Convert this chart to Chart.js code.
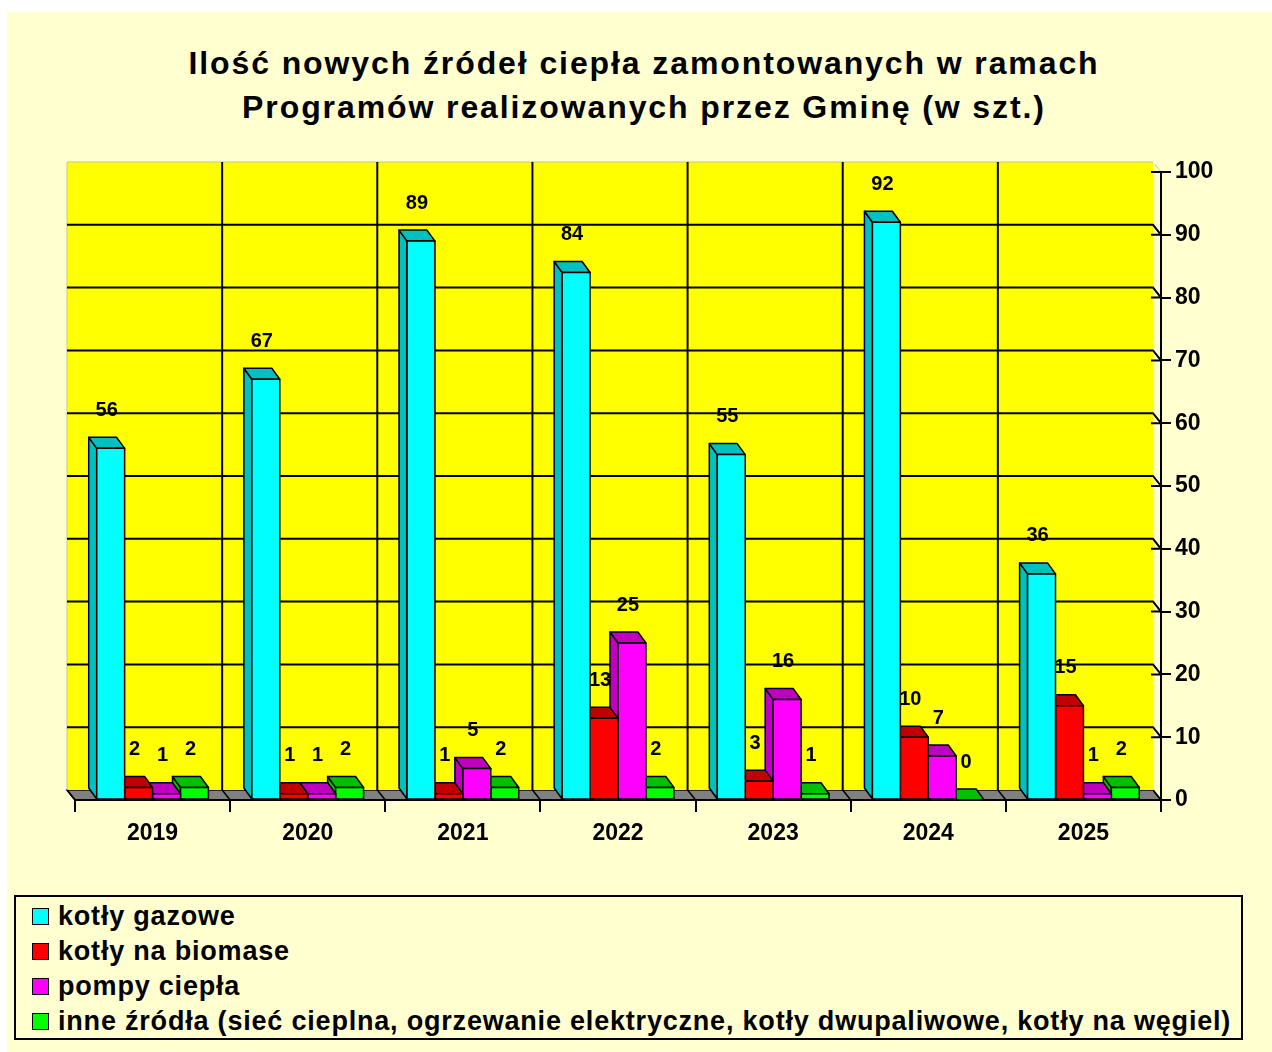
<!DOCTYPE html>
<html lang="pl">
<head>
<meta charset="UTF-8">
<title>Źródła ciepła</title>
<script src="https://cdn.jsdelivr.net/npm/chart.js"></script>
<style>
  body { margin: 0; background: #fff; font-family: 'Liberation Sans', Arial, sans-serif; }
  #page { position: absolute; left: 7px; top: 12px; width: 1265px; height: 1040px; background: #FFFFD0; }
  #title {
    position: absolute; left: 16px; top: 41px; width: 1256px; text-align: center;
    font: bold 32px/44px 'Liberation Sans', Arial, sans-serif; letter-spacing: 1.9px; color: #000;
  }
  #wrap { position: absolute; left: 0; top: 0; width: 1272px; height: 880px; }
  #legend {
    position: absolute; left: 14px; top: 895px; width: 1229px; height: 145px;
    box-sizing: border-box; border: 2px solid #000; padding: 2px 0 0 16px;
  }
  .item { height: 35px; display: flex; align-items: center; font: bold 27px 'Liberation Sans', Arial, sans-serif; letter-spacing: 0.8px; color: #000; white-space: nowrap; }
  .sw { width: 15px; height: 15px; border: 1.5px solid #000; margin-right: 9px; flex: none; }
</style>
</head>
<body>
<div id="page"></div>
<div id="title">Ilość nowych źródeł ciepła zamontowanych w ramach<br>Programów realizowanych przez Gminę (w szt.)</div>
<div id="wrap"><canvas id="chart" width="1272" height="880"></canvas></div>
<div id="legend"></div>

<script>
  const years = ['2019', '2020', '2021', '2022', '2023', '2024', '2025'];
  const gazowe = [56, 67, 89, 84, 55, 92, 36];
  const biomasa = [2, 1, 1, 13, 3, 10, 15];
  const pompy = [1, 1, 5, 25, 16, 7, 1];
  const inne = [2, 2, 2, 2, 1, 0, 2];
  const seriesNames = [
    'kotły gazowe',
    'kotły na biomase',
    'pompy ciepła',
    'inne źródła (sieć cieplna, ogrzewanie elektryczne, kotły dwupaliwowe, kotły na węgiel)'
  ];
  const yTicks = [0, 10, 20, 30, 40, 50, 60, 70, 80, 90, 100];

  const front = ['#00FFFF', '#FF0000', '#FF00FF', '#00FF00'];
  const dark = ['#00C0C0', '#C00000', '#C000C0', '#00C000'];

  // depth offsets of the fake 3D
  const DX = -8, DY = -11, WDX = -8, WDY = -10;

  function poly(ctx, pts, fill) {
    ctx.beginPath();
    ctx.moveTo(pts[0][0], pts[0][1]);
    for (let i = 1; i < pts.length; i++) ctx.lineTo(pts[i][0], pts[i][1]);
    ctx.closePath();
    ctx.fillStyle = fill;
    ctx.fill();
    ctx.stroke();
  }

  const wallPlugin = {
    id: 'wall3d',
    beforeDatasetsDraw(chart) {
      const { ctx, chartArea: a, scales: { x, y } } = chart;
      const top = y.getPixelForValue(100);
      ctx.save();
      // floor
      ctx.strokeStyle = '#000';
      ctx.lineWidth = 1.5;
      poly(ctx, [[a.left, a.bottom], [a.right, a.bottom], [a.right + WDX, a.bottom + WDY], [a.left + WDX, a.bottom + WDY]], '#808080');
      // wall
      ctx.fillStyle = '#FFFF00';
      ctx.fillRect(a.left + WDX, top + WDY, a.right - a.left, a.bottom - top);
      ctx.strokeStyle = '#C8C890';
      ctx.lineWidth = 1;
      ctx.beginPath();
      ctx.moveTo(a.left + WDX, a.bottom + WDY);
      ctx.lineTo(a.left + WDX, top + WDY);
      ctx.lineTo(a.right + WDX, top + WDY);
      ctx.lineTo(a.right, top);
      ctx.stroke();
      ctx.strokeStyle = '#FFFFC0';
      ctx.lineWidth = 2;
      ctx.beginPath();
      ctx.moveTo(a.right + WDX + 1, top + WDY);
      ctx.lineTo(a.right + WDX + 1, a.bottom + WDY);
      ctx.stroke();

      // horizontal grid on the wall
      ctx.strokeStyle = '#000';
      ctx.lineWidth = 2;
      yTicks.forEach(v => {
        const py = y.getPixelForValue(v);
        ctx.beginPath();
        if (v > 0 && v < 100) {
          ctx.moveTo(a.left + WDX, py + WDY);
          ctx.lineTo(a.right + WDX, py + WDY);
          ctx.lineTo(a.right, py);
        }
        ctx.moveTo(a.right - 10, py);
        ctx.lineTo(a.right, py);
        ctx.stroke();
      });

      // vertical grid on the wall + floor diagonals
      for (let i = 0; i <= years.length; i++) {
        const bx = i === 0 ? a.left : i === years.length ? a.right
          : (x.getPixelForValue(i - 1) + x.getPixelForValue(i)) / 2;
        ctx.lineWidth = 2;
        ctx.beginPath();
        if (i > 0 && i < years.length) {
          ctx.moveTo(bx + WDX, top + WDY);
          ctx.lineTo(bx + WDX, a.bottom + WDY);
        }
        ctx.stroke();
        ctx.lineWidth = 1.5;
        ctx.beginPath();
        ctx.moveTo(bx + WDX, a.bottom + WDY);
        ctx.lineTo(bx, a.bottom);
        ctx.stroke();
      }

      // axis lines
      ctx.lineWidth = 2;
      ctx.beginPath();
      ctx.moveTo(a.left, a.bottom);
      ctx.lineTo(a.right, a.bottom);
      ctx.moveTo(a.right, top);
      ctx.lineTo(a.right, a.bottom);
      ctx.stroke();
      ctx.restore();
    },
    afterDatasetsDraw(chart) {
      const { ctx } = chart;
      const nSets = chart.data.datasets.length;
      ctx.save();
      ctx.strokeStyle = '#000';
      ctx.lineWidth = 1.5;
      ctx.lineJoin = 'round';
      for (let i = 0; i < years.length; i++) {
        for (let d = nSets - 1; d >= 0; d--) {
          const el = chart.getDatasetMeta(d).data[i];
          const l = el.x - el.width / 2, r = el.x + el.width / 2, t = el.y, b = el.base;
          poly(ctx, [[l, b], [l + DX, b + DY], [l + DX, t + DY], [l, t]], dark[d]);
          poly(ctx, [[l, t], [l + DX, t + DY], [r + DX, t + DY], [r, t]], dark[d]);
          poly(ctx, [[l, t], [r, t], [r, b], [l, b]], front[d]);
        }
      }
      // value labels
      ctx.fillStyle = '#000';
      ctx.font = "bold 20px 'Liberation Sans', Arial, sans-serif";
      ctx.textAlign = 'center';
      ctx.textBaseline = 'middle';
      for (let d = 0; d < nSets; d++) {
        chart.getDatasetMeta(d).data.forEach((el, i) => {
          ctx.fillText(String(chart.data.datasets[d].data[i]), el.x - 4, el.y - 38);
        });
      }
      ctx.restore();
    }
  };

  const allData = [gazowe, biomasa, pompy, inne];

  new Chart(document.getElementById('chart'), {
    type: 'bar',
    data: {
      labels: years,
      datasets: allData.map((vals, i) => ({
        label: seriesNames[i],
        data: vals,
        backgroundColor: front[i],
        borderColor: '#000',
        borderWidth: 1.5,
        categoryPercentage: 0.72,
        barPercentage: 1.0
      }))
    },
    options: {
      responsive: false,
      animation: false,
      events: [],
      layout: { padding: { left: 75, right: 0, top: 172, bottom: 0 } },
      plugins: {
        legend: { display: false },
        tooltip: { enabled: false },
        title: { display: false }
      },
      scales: {
        x: {
          border: { display: false },
          grid: { display: true, offset: true, drawOnChartArea: false, drawTicks: true, tickLength: 12, color: '#000', lineWidth: 2 },
          ticks: { color: '#000', padding: 8, font: { family: "'Liberation Sans', Arial, sans-serif", size: 23, weight: 'bold' } },
          afterFit(scale) { scale.height = 80; }
        },
        y: {
          position: 'right',
          min: 0,
          max: 100,
          border: { display: false },
          grid: { display: true, drawOnChartArea: false, drawTicks: true, tickLength: 10, color: '#000', lineWidth: 2 },
          ticks: { stepSize: 10, color: '#000', padding: 4, font: { family: "'Liberation Sans', Arial, sans-serif", size: 23, weight: 'bold' } },
          afterFit(scale) { scale.width = 111; }
        }
      }
    },
    plugins: [wallPlugin]
  });

  const legend = document.getElementById('legend');
  seriesNames.forEach((name, i) => {
    const row = document.createElement('div');
    row.className = 'item';
    const sw = document.createElement('span');
    sw.className = 'sw';
    sw.style.background = front[i];
    row.appendChild(sw);
    row.appendChild(document.createTextNode(name));
    legend.appendChild(row);
  });
</script>
</body>
</html>
